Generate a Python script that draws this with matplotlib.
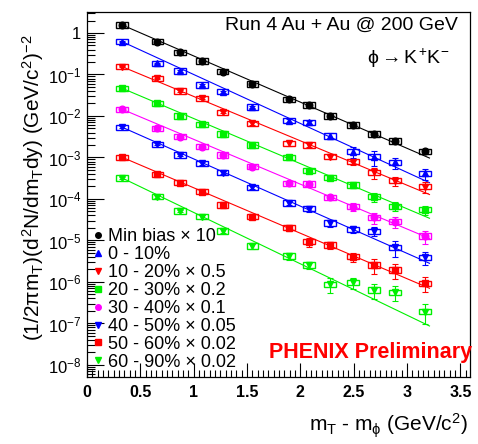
import numpy as np
import matplotlib
matplotlib.use("Agg")
import matplotlib.pyplot as plt
from matplotlib.lines import Line2D
from matplotlib.patches import Rectangle
from matplotlib.ticker import (LogLocator, FixedLocator, MultipleLocator, FuncFormatter,
                               NullFormatter)

plt.rcParams["font.family"] = ["Liberation Sans", "DejaVu Sans"]
plt.rcParams["mathtext.fontset"] = "custom"
plt.rcParams["mathtext.rm"] = "Liberation Sans"
plt.rcParams["mathtext.it"] = "Liberation Sans"
plt.rcParams["mathtext.bf"] = "Liberation Sans:bold"

# mT - m_phi bin centres (GeV/c^2)
mt = [0.33, 0.66, 0.87, 1.08, 1.27, 1.55, 1.89, 2.08, 2.28, 2.49, 2.69, 2.89, 3.17]

labels = ["Min bias \u00d7 10", "0 - 10%", "10 - 20% \u00d7 0.5", "20 - 30% \u00d7 0.2",
          "30 - 40% \u00d7 0.1", "40 - 50% \u00d7 0.05", "50 - 60% \u00d7 0.02", "60 - 90% \u00d7 0.02"]

# scaled yields
minbias = [1.56, 0.617, 0.343, 0.212, 0.117, 0.059, 0.0253, 0.0184, 0.0100, 0.00607, 0.00368, 0.00250, 0.00141]
c0_10 = [0.617, 0.186, 0.121, 0.0558, 0.0385, 0.0165, 0.0077, 0.00705, 0.0033, 0.00138, 0.00105, 0.000766, 0.000416]
c10_20 = [0.154, 0.081, 0.040, 0.0267, 0.0123, 0.00667, 0.0022, 0.0020, 0.00105, 0.00079, 0.00044, 0.000276, 0.000198]
c20_30 = [0.0465, 0.0202, 0.0100, 0.0063, 0.00368, 0.0020, 0.00101, 0.00048, 0.000326, 0.000217, 0.000114, 6.67e-5, 5.52e-5]
c30_40 = [0.0145, 0.00506, 0.00317, 0.00182, 0.00115, 0.0006, 0.000239, 0.00023, 0.00011, 6.52e-5, 3.62e-5, 2.84e-5, 1.28e-5]
c40_50 = [0.00535, 0.00208, 0.00115, 0.000724, 0.00043, 0.000191, 8.0e-5, 5.84e-5, 2.64e-5, 1.87e-5, 1.67e-5, 6.78e-6, 3.94e-6]
c50_60 = [0.00101, 0.000394, 0.000247, 0.00015, 7.17e-5, 3.74e-5, 2.03e-5, 9.35e-6, 7.79e-6, 4.07e-6, 2.57e-6, 1.95e-6, 9.3e-7]
c60_90 = [0.00032, 0.000114, 5.14e-5, 3.74e-5, 1.69e-5, 7.3e-6, 4.24e-6, 2.57e-6, 8.8e-7, 9.8e-7, 6.4e-7, 5.65e-7, 1.92e-7]

# relative statistical errors
err_mb = [.03, .03, .03, .03, .03, .04, .05, .05, .06, .08, .08, .10, .15]
err_0 = [.04, .04, .04, .05, .05, .06, .08, .10, .15, .30, .40, .30, .30]
err_10 = [.04, .04, .05, .05, .06, .08, .15, .10, .12, .15, .30, .25, .30]
err_20 = [.05, .05, .05, .06, .06, .08, .10, .10, .12, .15, .25, .25, .25]
err_30 = [.05, .05, .06, .06, .08, .08, .10, .12, .15, .20, .30, .30, .35]
err_40 = [.05, .06, .06, .08, .08, .10, .12, .15, .20, .20, .25, .40, .35]
err_50 = [.06, .06, .08, .08, .10, .12, .15, .25, .20, .25, .40, .40, .40]
err_60 = [.06, .08, .08, .10, .12, .15, .20, .20, .40, .30, .40, .40, .50]

# exponential fit lines: value at start / end of fit range
fit_x = [0.33, 3.21]
fit_mb = [1.56, 0.00097]
fit_0 = [0.617, 0.000247]
fit_10 = [0.154, 0.000128]
fit_20 = [0.0465, 3.43e-5]
fit_30 = [0.0145, 1.12e-5]
fit_40 = [0.00535, 2.82e-6]
fit_50 = [0.00101, 7.05e-7]
fit_60 = [0.00032, 8.7e-8]

y_decades = [1, 1e-1, 1e-2, 1e-3, 1e-4, 1e-5, 1e-6, 1e-7, 1e-8]

series = [minbias, c0_10, c10_20, c20_30, c30_40, c40_50, c50_60, c60_90]
errors = [err_mb, err_0, err_10, err_20, err_30, err_40, err_50, err_60]
fits = [fit_mb, fit_0, fit_10, fit_20, fit_30, fit_40, fit_50, fit_60]
colors = ["black", "#0000ff", "#ff0000", "#00f000", "#ff00ff", "#0000ff", "#ff0000", "#00f000"]
markers = ["o", "^", "v", "s", "o", "v", "s", "v"]

fig = plt.figure(figsize=(4.78, 4.44), dpi=100)
ax = fig.add_axes([87 / 478, 1 - 377 / 444, 382.5 / 478, 365 / 444])

for vals, err, fit, c, m in zip(series, errors, fits, colors, markers):
    vals = np.array(vals)
    err = np.array(err) * vals
    ax.plot(fit_x, fit, color=c, lw=0.8, zorder=2)
    for x, v in zip(mt, vals):
        ax.add_patch(Rectangle((x - 0.055, v * 0.86), 0.11, v * 0.30, fill=False,
                               edgecolor=c, lw=1.0, zorder=3))
    ax.errorbar(mt, vals, yerr=err, fmt=m, color=c, ms=4.8, elinewidth=0.8,
                capsize=2, capthick=0.8, zorder=4)

ax.set_yscale("log")
ax.set_xlim(0, 3.585)
ax.set_ylim(10 ** -8.29, 10 ** 0.506)

ax.xaxis.set_major_locator(MultipleLocator(0.5))
ax.xaxis.set_minor_locator(MultipleLocator(0.05))
ax.xaxis.set_major_formatter(FuncFormatter(lambda v, p: "%g" % v))
ax.yaxis.set_major_locator(FixedLocator(y_decades))
ax.yaxis.set_minor_locator(LogLocator(base=10, subs=np.arange(2, 10), numticks=20))
ax.yaxis.set_minor_formatter(NullFormatter())
ax.yaxis.set_major_formatter(FuncFormatter(
    lambda v, p: "1" if round(np.log10(v)) == 0 else r"$10^{%d}$" % round(np.log10(v))))

ax.tick_params(which="both", direction="in", top=False, right=False, width=0.8)
ax.tick_params(axis="x", which="major", length=10, pad=6, labelsize=11.5)
ax.tick_params(axis="x", which="minor", length=5)
ax.tick_params(axis="y", which="major", length=12, pad=4, labelsize=12)
ax.tick_params(axis="y", which="minor", length=6)
for t in ax.get_xticklabels():
    t.set_fontweight("bold")
for s in ax.spines.values():
    s.set_linewidth(0.9)

handles = [Line2D([], [], ls="none", marker=m, color=c, ms=4) for c, m in zip(colors, markers)]
ax.legend(handles, labels, loc="lower left", bbox_to_anchor=(0.0, 0.0), frameon=False,
          numpoints=1, handlelength=0.5, handletextpad=0.3, labelspacing=0.05,
          borderaxespad=0.1, borderpad=0.25, fontsize=13)

ax.text(0.970, 0.964, "Run 4 Au + Au @ 200 GeV", transform=ax.transAxes,
        ha="right", va="center", fontsize=14)
ax.text(0.949, 0.874, r"$\phi \rightarrow K^{+}K^{-}$", transform=ax.transAxes,
        ha="right", va="center", fontsize=14)
ax.text(1.006, 0.068, "PHENIX Preliminary", transform=ax.transAxes, ha="right",
        va="center", fontsize=15.5, fontweight="bold", color="#ff0000")

fig.text(468 / 478, 1 - 426 / 444, r"$m_{T}$ - $m_{\phi}$ (GeV/c$^{2}$)", ha="right",
         va="center", fontsize=15)
fig.text(33 / 478, 1 - 188 / 444, r"$(1/2\pi m_{T})(d^{2}N/dm_{T}dy)\ (GeV/c^{2})^{-2}$",
         rotation=90, ha="center", va="center", fontsize=15)

fig.savefig("out.png", dpi=100)
